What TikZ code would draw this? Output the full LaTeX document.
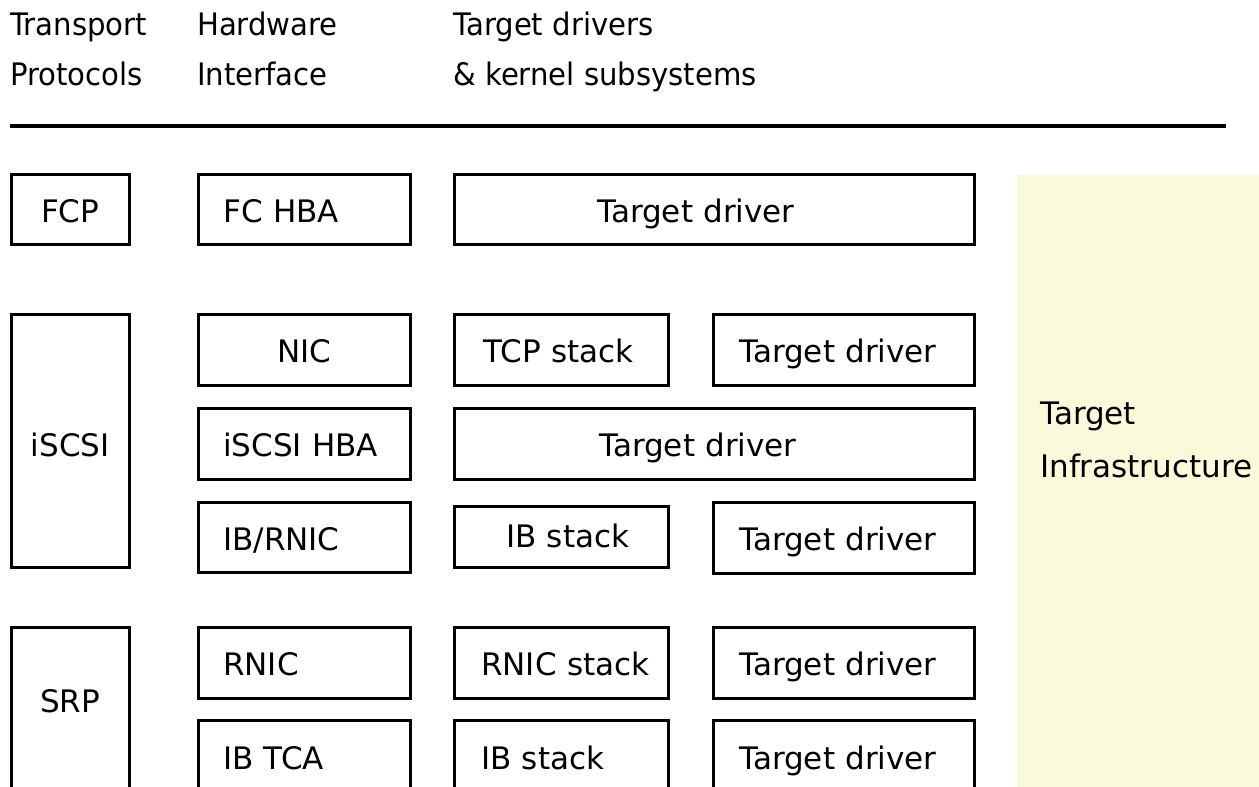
\documentclass[tikz,border=0pt]{standalone}
\usepackage{fontspec}
\setmainfont{DejaVu Sans}
\newfontfamily\hdrfont[FakeStretch=0.94]{DejaVu Sans}
\definecolor{infra}{RGB}{250,250,218}
\begin{document}
\begin{tikzpicture}[x=1pt,y=-1pt,
  box/.style={draw=black, line width=2.5pt, anchor=north west, inner sep=0pt,
    font=\fontsize{31}{36}\selectfont, text height=26pt, text depth=0pt},
  lt/.style 2 args={text width=#1, align=left, minimum width=#1,
    execute at begin node={\hspace*{#2pt}}},
  ct/.style={minimum width=#1, align=center},
  hdr/.style={anchor=base west, inner sep=0pt, font=\hdrfont\fontsize{31}{36}\selectfont},
  inf/.style={anchor=base west, inner sep=0pt, font=\fontsize{31}{36}\selectfont},
  cut/.style={minimum height=140pt, text height=25pt, text depth=67pt}]
\useasboundingbox (0,0) rectangle (1259,787);
\clip (0,0) rectangle (1259,787);
% header
\node[hdr] (h1a) at (10,35) {Transport};
\node[hdr] (h1b) at (10,85) {Protocols};
\node[hdr] (h2a) at (197,35) {Hardware};
\node[hdr] (h2b) at (197,85) {Interface};
\node[hdr] (h3a) at (453,35) {Target drivers};
\node[hdr] (h3b) at (453,85) {\& kernel subsystems};
\coordinate (ruleL) at (10,126);
\coordinate (ruleR) at (1226,126);
\draw[line width=3.5pt] (ruleL) -- (ruleR);
% target infrastructure area
\fill[infra] (1017,175) rectangle (1259,800);
\node[inf] (ti1) at (1040,424) {Target};
\node[inf] (ti2) at (1040,477) {Infrastructure};
% row FC
\node[box, ct=118, minimum height=70] (fcp) at (10,173) {FCP};
\node[box, lt={212}{25}, minimum height=70] (fchba) at (197,173) {FC HBA};
\node[box, lt={520}{143}, minimum height=70] (td1) at (453,173) {Target driver};
% iSCSI
\node[box, ct=118, minimum height=253, text height=32pt, text depth=0pt] (iscsi) at (10,313) {iSCSI};
\node[box, ct=212, minimum height=71] (nic) at (197,313) {NIC};
\node[box, lt={214}{29}, minimum height=71] (tcp) at (453,313) {TCP stack};
\node[box, lt={261}{26}, minimum height=71] (td2) at (712,313) {Target driver};
\node[box, lt={212}{25}, minimum height=71] (hba) at (197,407) {iSCSI HBA};
\node[box, lt={520}{145}, minimum height=71] (td3) at (453,407) {Target driver};
\node[box, lt={212}{25}, minimum height=70] (ibrnic) at (197,501) {IB/RNIC};
\node[box, lt={214}{52}, minimum height=61, text height=22pt] (ibst1) at (453,505) {IB stack};
\node[box, lt={261}{26}, minimum height=71] (td4) at (712,501) {Target driver};
% SRP
\node[box, ct=118, minimum height=200, text height=0pt, text depth=30pt] (srp) at (10,626) {SRP};
\node[box, lt={212}{25}, minimum height=71] (rnic) at (197,626) {RNIC};
\node[box, lt={214}{27}, minimum height=71] (rnicst) at (453,626) {RNIC stack};
\node[box, lt={261}{26}, minimum height=71] (td5) at (712,626) {Target driver};
\node[box, lt={212}{25}, cut] (ibtca) at (197,719) {IB TCA};
\node[box, lt={214}{27}, cut] (ibst2) at (453,719) {IB stack};
\node[box, lt={261}{26}, cut] (td6) at (712,719) {Target driver};
\end{tikzpicture}
\end{document}
